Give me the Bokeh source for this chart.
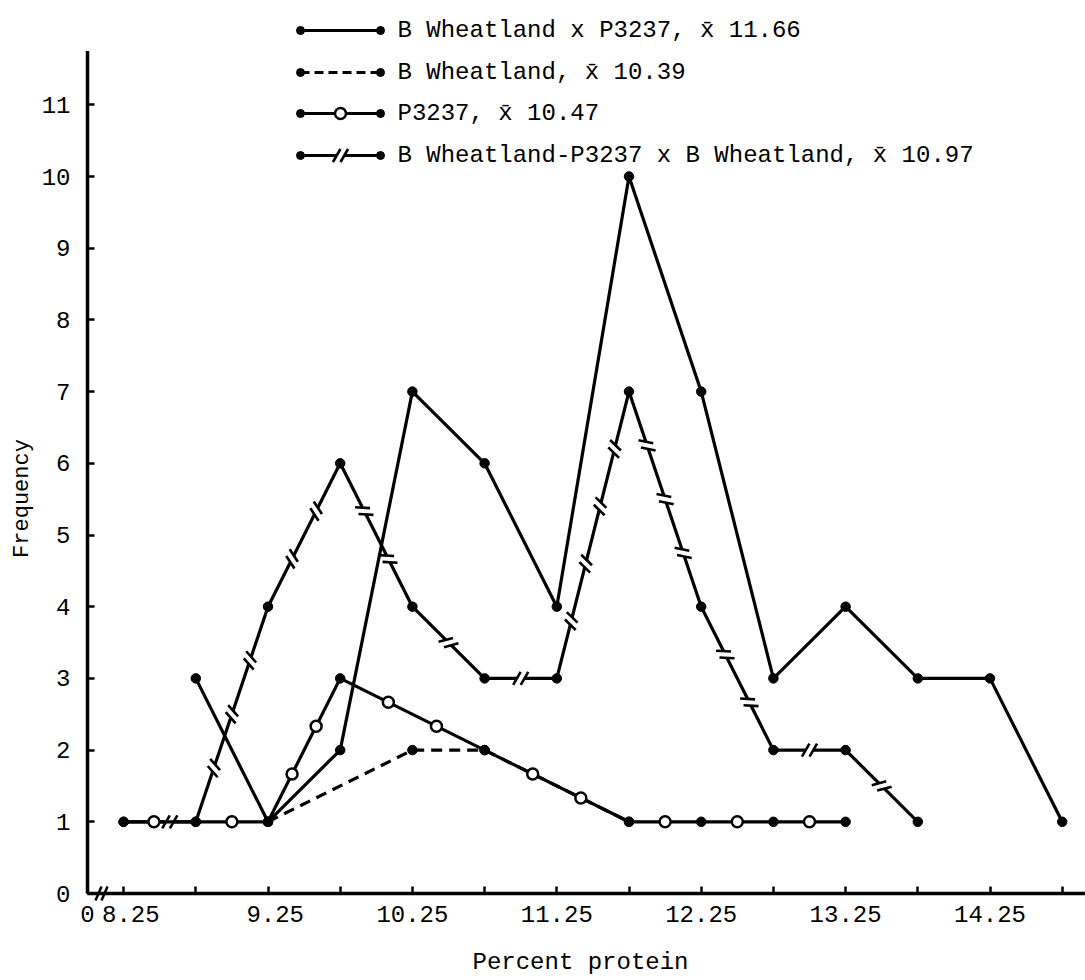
import math
from bokeh.plotting import figure
from bokeh.models import FixedTicker, Range1d
from bokeh.embed import file_html
from bokeh.resources import INLINE
from bokeh.core.properties import value

# ---------------- data ----------------
cross_x = [8.75, 9.25, 9.75, 10.25, 10.75, 11.25, 11.75, 12.25, 12.75, 13.25, 13.75, 14.25, 14.75]
cross_y = [3, 1, 2, 7, 6, 4, 10, 7, 3, 4, 3, 3, 1]

bw_x = [9.25, 10.25, 10.75, 11.75]
bw_y = [1, 2, 2, 1]

p3237_x = [8.25, 8.75, 9.25, 9.75, 10.75, 11.75, 12.25, 12.75, 13.25]
p3237_y = [1, 1, 1, 3, 2, 1, 1, 1, 1]

back_x = [8.25, 8.75, 9.25, 9.75, 10.25, 10.75, 11.25, 11.75, 12.25, 12.75, 13.25, 13.75]
back_y = [1, 1, 4, 6, 4, 3, 3, 7, 4, 2, 2, 1]

legend_labels = [
    "B Wheatland x P3237, x\u0304 11.66",
    "B Wheatland, x\u0304 10.39",
    "P3237,  x\u0304 10.47",
    "B Wheatland-P3237 x B Wheatland, x\u0304 10.97",
]

x_ticks = [8.0, 8.25, 8.75, 9.25, 9.75, 10.25, 10.75, 11.25, 11.75, 12.25, 12.75,
           13.25, 13.75, 14.25, 14.75]
x_tick_labels = ["0", "\u00a08.25", "", "\u00a09.25", "", "10.25", "", "11.25", "", "12.25", "",
                 "13.25", "", "14.25", ""]
y_ticks = list(range(0, 12))
y_top = 11.75
x_title = "Percent protein"
y_title = "Frequency"

# ---------------- geometry ----------------
W, H = 1085, 980
LEFT, BOTTOM = 87, 87
SX = 144.4   # px per percent
SY = 71.7    # px per frequency unit
x0 = 8.0
x1 = x0 + (W - LEFT) / SX
y1 = (H - BOTTOM) / SY

FONT = value("Liberation Mono")
FS = "24px"
LW = 3.2


def px_x(px):
    return x0 + (px - LEFT) / SX


def px_y(py):
    return (H - BOTTOM - py) / SY


def segments_of(xs, ys):
    return {(xs[i], ys[i], xs[i + 1], ys[i + 1]) for i in range(len(xs) - 1)}


def decor_positions(xs, ys, spacing=75.0, shared=frozenset(), shift=0.0):
    pts = []
    for i in range(len(xs) - 1):
        dx = (xs[i + 1] - xs[i]) * SX
        dy = (ys[i + 1] - ys[i]) * SY
        L = math.hypot(dx, dy)
        n = max(1, int(round(L / spacing)))
        ux, uy = dx / L, dy / L
        off = shift if (xs[i], ys[i], xs[i + 1], ys[i + 1]) in shared else 0.0
        for k in range(n):
            t = (k + 1) / (n + 1) + off
            pts.append((xs[i] + t * (xs[i + 1] - xs[i]), ys[i] + t * (ys[i + 1] - ys[i]), ux, uy))
    return pts


def slash_segments(pts, half=7.5, sep=3.8, tilt=30):
    a0, b0, a1, b1 = [], [], [], []
    g0, h0, g1, h1 = [], [], [], []
    th = math.radians(tilt)
    for (cx, cy, ux, uy) in pts:
        nx, ny = -uy, ux
        dx = math.cos(th) * nx + math.sin(th) * ux
        dy = math.cos(th) * ny + math.sin(th) * uy
        g0.append(cx - sep * ux / SX)
        h0.append(cy - sep * uy / SY)
        g1.append(cx + sep * ux / SX)
        h1.append(cy + sep * uy / SY)
        for s in (-sep, sep):
            ox, oy = s * ux, s * uy
            a0.append(cx + (ox - half * dx) / SX)
            b0.append(cy + (oy - half * dy) / SY)
            a1.append(cx + (ox + half * dx) / SX)
            b1.append(cy + (oy + half * dy) / SY)
    return (a0, b0, a1, b1), (g0, h0, g1, h1)


def draw_slashes(pts):
    bars, gaps = slash_segments(pts)
    p.segment(*gaps, line_width=LW + 1.5, line_color="white")
    p.segment(*bars, line_width=2.6, line_color="black")


p = figure(width=W, height=H, x_range=Range1d(x0, x1), y_range=Range1d(0, y1),
           output_backend="svg", toolbar_location=None,
           min_border_left=LEFT, min_border_right=0, min_border_top=0, min_border_bottom=BOTTOM)
p.outline_line_color = None
p.grid.visible = False
p.background_fill_color = "white"
p.border_fill_color = "white"

# axes
xa = p.xaxis[0]
xa.ticker = FixedTicker(ticks=x_ticks)
xa.major_label_overrides = {t: l for t, l in zip(x_ticks, x_tick_labels)}
xa.axis_line_width = 3.5
xa.axis_line_color = "black"
xa.major_tick_in = 7
xa.major_tick_out = 0
xa.major_tick_line_width = 2.5
xa.minor_tick_line_color = None
xa.major_label_standoff = 8
xa.major_label_text_font = "Liberation Mono"
xa.major_label_text_font_size = FS
xa.major_label_text_color = "black"

ya = p.yaxis[0]
ya.ticker = FixedTicker(ticks=y_ticks)
ya.axis_line_color = None
ya.major_tick_in = 7
ya.major_tick_out = 0
ya.major_tick_line_width = 2.5
ya.minor_tick_line_color = None
ya.major_label_standoff = 17
ya.major_label_text_font = "Liberation Mono"
ya.major_label_text_font_size = FS
ya.major_label_text_color = "black"

# axis titles
p.text(x=[px_x(580)], y=[px_y(962)], text=[x_title], text_font=FONT, text_font_size=FS,
       text_align="center", text_baseline="middle", text_color="black", level="overlay")
p.text(x=[px_x(22)], y=[px_y(498)], text=[y_title], text_font=FONT, text_font_size="22px",
       text_align="center", text_baseline="middle", text_color="black", angle=math.pi / 2,
       level="overlay")

# y axis line (stops below the legend)
p.segment(x0=[x0], y0=[0], x1=[x0], y1=[y_top], line_width=3.5, line_color="black", level="overlay")
# axis break marks near the origin
bx = [px_x(98), px_x(104)]
p.segment(x0=[b - 3 / SX for b in bx], y0=[px_y(900)] * 2, x1=[b + 3 / SX for b in bx],
          y1=[px_y(886)] * 2, line_width=2.5, line_color="black", level="overlay")

shared = frozenset(segments_of(p3237_x, p3237_y) & segments_of(back_x, back_y))

# series 1 : solid
p.line(cross_x, cross_y, line_width=LW, line_color="black")

# series 2 : dashed
p.line(bw_x, bw_y, line_width=LW, line_color="black", line_dash="11 7")

# series 4 : line with // marks
p.line(back_x, back_y, line_width=LW, line_color="black")
draw_slashes(decor_positions(back_x, back_y, shared=shared, shift=0.14))

# series 3 : line with open circles
p.line(p3237_x, p3237_y, line_width=LW, line_color="black")
cp = decor_positions(p3237_x, p3237_y, shared=shared, shift=-0.08)
p.scatter([c[0] for c in cp], [c[1] for c in cp], size=11, fill_color="white",
          line_color="black", line_width=2.5)

for xs, ys in ((cross_x, cross_y), (bw_x, bw_y), (p3237_x, p3237_y), (back_x, back_y)):
    p.scatter(xs, ys, size=9.5, color="black")

# ---------------- legend ----------------
rows_px = [30, 72, 113, 155]
lx0, lx1 = px_x(300), px_x(380)
tx = px_x(397)
ly = [px_y(r) for r in rows_px]

p.line([lx0, lx1], [ly[0], ly[0]], line_width=LW, line_color="black")
p.line([lx0, lx1], [ly[1], ly[1]], line_width=LW, line_color="black", line_dash="9 5")
p.line([lx0, lx1], [ly[2], ly[2]], line_width=LW, line_color="black")
lcp = decor_positions([lx0, lx1], [ly[2], ly[2]])
p.scatter([c[0] for c in lcp], [c[1] for c in lcp], size=11, fill_color="white",
          line_color="black", line_width=2.5)
p.line([lx0, lx1], [ly[3], ly[3]], line_width=LW, line_color="black")
draw_slashes(decor_positions([lx0, lx1], [ly[3], ly[3]]))
p.scatter([lx0] * 4 + [lx1] * 4, ly + ly, size=8, color="black")

p.text(x=[tx] * 4, y=ly, text=legend_labels, text_font=FONT, text_font_size=FS,
       text_baseline="middle", text_align="left", text_color="black")

open("out.html", "w").write(file_html(p, INLINE))
